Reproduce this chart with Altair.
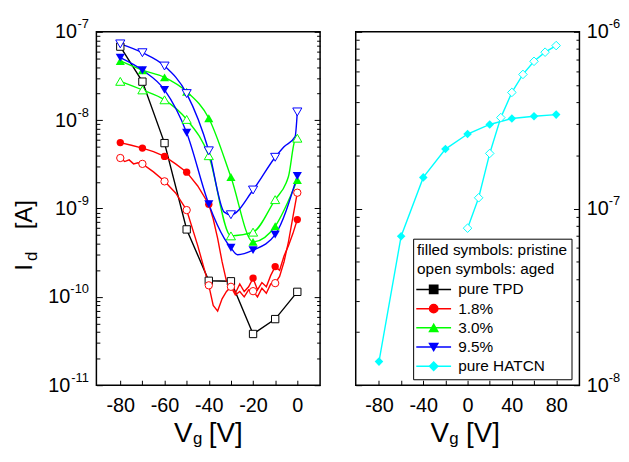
import altair as alt
import pandas as pd

# ---------------- data ----------------
SERIES = ["pure TPD", "1.8%", "3.0%", "9.5%", "pure HATCN"]
COLORS = ["#000000", "#ff0000", "#00ff00", "#0000ff", "#00ffff"]
SHAPES = ["square", "circle", "triangle-up", "triangle-down", "diamond"]
MSIZE = {"pure TPD": 55, "1.8%": 55, "3.0%": 85, "9.5%": 85, "pure HATCN": 75}

# left panel: marker voltages (V) and currents (A)
VG_L = [-80, -70, -60, -50, -40, -30, -20, -10, 0]
TPD_AGED = [6.8e-8, 2.73e-8, 5.5e-9, 5.8e-10, 1.52e-10, 1.5e-10, 3.8e-11, 5.6e-11, 1.14e-10]
R18_PRIS = [5.57e-9, 4.83e-9, 3.89e-9, 2.58e-9, 1.12e-9, 1.4e-10, 1.63e-10, 2.2e-10, 7.5e-10]
R18_AGED = [3.73e-9, 3.2e-9, 2.03e-9, 9.6e-10, 1.35e-10, 1.3e-10, 1.16e-10, 1.43e-10, 1.51e-9]
G30_PRIS = [4.68e-8, 3.68e-8, 3.05e-8, 2.1e-8, 1.05e-8, 2.27e-9, 4.19e-10, 6.3e-10, 2.1e-9]
G30_AGED = [2.75e-8, 2.2e-8, 1.7e-8, 1.02e-8, 3.96e-9, 4.9e-10, 5.4e-10, 1.26e-9, 6.25e-9]
B95_PRIS = [5.1e-8, 3.68e-8, 2.2e-8, 7.2e-9, 1.12e-9, 3.59e-10, 3.38e-10, 5.06e-10, 2.33e-9]
B95_AGED = [7.3e-8, 5.8e-8, 4.1e-8, 2.0e-8, 4.5e-9, 8.5e-10, 1.62e-9, 3.8e-9, 1.24e-8]

# measured curves (denser where the traces wiggle)
R18_PRIS_LX = [-80, -75, -70, -65, -60, -55, -50, -45, -40, -38, -36, -34, -32, -30, -28, -26, -24,
               -22, -20, -18, -16, -14, -12, -10, -8, -6, -4, -2, 0]
R18_PRIS_LY = [5.57e-9, 5.2e-9, 4.83e-9, 4.4e-9, 3.89e-9, 3.2e-9, 2.58e-9, 1.8e-9, 1.12e-9, 7.6e-10,
               4.6e-10, 2.5e-10, 1.5e-10, 1.4e-10, 1.1e-10, 1.4e-10, 1.15e-10, 1.3e-10, 1.63e-10,
               1.2e-10, 1.45e-10, 1.3e-10, 1.75e-10, 2.2e-10, 2.0e-10, 2.9e-10, 3.8e-10, 5.2e-10, 7.5e-10]
R18_AGED_LX = [-80, -78, -76, -74, -72, -70, -65, -60, -55, -50, -45, -40, -38, -36, -34, -32, -30,
               -28, -26, -24, -22, -20, -18, -16, -14, -12, -10, -8, -6, -4, -2, 0]
R18_AGED_LY = [3.73e-9, 3.4e-9, 3.55e-9, 3.2e-9, 3.3e-9, 3.2e-9, 2.6e-9, 2.03e-9, 1.5e-9, 9.6e-10,
               3.8e-10, 1.35e-10, 8.0e-11, 6.9e-11, 9.5e-11, 1.15e-10, 1.3e-10, 1.05e-10, 1.15e-10,
               1.0e-10, 1.2e-10, 1.16e-10, 1.0e-10, 1.25e-10, 1.1e-10, 1.4e-10, 1.43e-10, 1.7e-10,
               2.5e-10, 4.2e-10, 8.0e-10, 1.51e-9]
G30_AGED_LX = [-80, -70, -60, -50, -40, -30, -20, -10, -5, -4, -1, 0]
G30_AGED_LY = [2.75e-8, 2.2e-8, 1.7e-8, 1.02e-8, 3.96e-9, 4.9e-10, 5.4e-10, 1.26e-9, 1.96e-9,
               2.3e-9, 6.0e-9, 6.25e-9]
B95_PRIS_LX = [-80, -70, -60, -50, -40, -33, -30, -27, -20, -10, 0]
B95_PRIS_LY = [5.1e-8, 3.68e-8, 2.2e-8, 7.2e-9, 1.12e-9, 4.6e-10, 3.59e-10, 3.0e-10, 3.38e-10,
               5.06e-10, 2.33e-9]
B95_AGED_LX = [-80, -70, -60, -50, -40, -33, -30, -20, -10, -6, -1, 0]
B95_AGED_LY = [7.3e-8, 5.8e-8, 4.1e-8, 2.0e-8, 4.5e-9, 9.1e-10, 8.5e-10, 1.62e-9, 3.8e-9, 5.0e-9,
               6.5e-9, 1.24e-8]

# right panel: pure HATCN
VG_R_PRIS = [-80, -60, -40, -20, 0, 20, 40, 60, 80]
HAT_PRIS = [1.36e-8, 6.97e-8, 1.5e-7, 2.17e-7, 2.64e-7, 2.99e-7, 3.23e-7, 3.33e-7, 3.4e-7]
VG_R_AGED = [0, 10, 20, 30, 40, 50, 60, 70, 80]
HAT_AGED = [7.74e-8, 1.15e-7, 2.05e-7, 3.27e-7, 4.54e-7, 5.74e-7, 6.81e-7, 7.67e-7, 8.36e-7]

# axis ticks / labels
XLAB_L = [-80, -60, -40, -20, 0]
XTICK_L = [-80, -70, -60, -50, -40, -30, -20, -10, 0]
XLAB_R = [-80, -40, 0, 40, 80]
XTICK_R = [-80, -60, -40, -20, 0, 20, 40, 60, 80]
DECADES_L = [1e-11, 1e-10, 1e-9, 1e-8, 1e-7]
DECADES_R = [1e-8, 1e-7, 1e-6]
MULT = [1, 2, 3, 4, 5, 6, 7, 8, 9]

# line-legend entries carry a trailing space so that the line legend and the
# marker legend stay two separate (overlaid) legends
LINE_KEYS = [s + " " for s in SERIES]

# ---------------- tables ----------------
def line_rows(xs, ys, series, state):
    return [{"vg": x, "id": y, "sl": series + " ", "key": series + state} for x, y in zip(xs, ys)]

def pt_rows(xs, ys, series, state):
    return [{"vg": x, "id": y, "series": series, "so": series, "state": state,
             "sz": MSIZE[series]} for x, y in zip(xs, ys)]

lin_L = pd.DataFrame(line_rows(VG_L, TPD_AGED, "pure TPD", "a")
                     + line_rows(R18_PRIS_LX, R18_PRIS_LY, "1.8%", "p")
                     + line_rows(R18_AGED_LX, R18_AGED_LY, "1.8%", "a"))
mono_L = pd.DataFrame(line_rows(VG_L, G30_PRIS, "3.0%", "p")
                      + line_rows(G30_AGED_LX, G30_AGED_LY, "3.0%", "a")
                      + line_rows(B95_PRIS_LX, B95_PRIS_LY, "9.5%", "p")
                      + line_rows(B95_AGED_LX, B95_AGED_LY, "9.5%", "a"))
filled_L = pd.DataFrame(pt_rows(VG_L, R18_PRIS, "1.8%", "p") + pt_rows(VG_L, G30_PRIS, "3.0%", "p")
                        + pt_rows(VG_L, B95_PRIS, "9.5%", "p"))
open_L = pd.DataFrame(pt_rows(VG_L, TPD_AGED, "pure TPD", "a") + pt_rows(VG_L, R18_AGED, "1.8%", "a")
                      + pt_rows(VG_L, G30_AGED, "3.0%", "a") + pt_rows(VG_L, B95_AGED, "9.5%", "a"))

linp_R = pd.DataFrame(line_rows(VG_R_PRIS, HAT_PRIS, "pure HATCN", "p"))
lina_R = pd.DataFrame(line_rows(VG_R_AGED, HAT_AGED, "pure HATCN", "a"))
filled_R = pd.DataFrame(pt_rows(VG_R_PRIS, HAT_PRIS, "pure HATCN", "p"))
open_R = pd.DataFrame(pt_rows(VG_R_AGED, HAT_AGED, "pure HATCN", "a"))

# ---------------- styling ----------------
FONT = "Liberation Sans"
W, H = 226, 357
LX, LY = 320, 209
TITLE = ["filled symbols: pristine", "open symbols: aged"]

line_scale = alt.Scale(domain=LINE_KEYS, range=COLORS)
mark_scale = alt.Scale(domain=SERIES, range=COLORS)
shape_scale = alt.Scale(domain=SERIES, range=SHAPES)

common_leg = dict(orient="none", legendX=LX, legendY=LY, padding=4, title=TITLE,
                  titleFont=FONT, titleFontSize=15.5, titleFontWeight="normal",
                  titleLineHeight=19.5, titlePadding=4.5, titleAnchor="start",
                  labelFont=FONT, labelFontSize=15.5, rowPadding=2.4,
                  symbolSize=70, symbolStrokeWidth=1.5, symbolOffset=9, labelOffset=17)
stroke_leg = alt.Legend(symbolType="M-4.2,0H4.2", symbolFillColor="transparent",
                        strokeColor="black", fillColor="white", labelColor="black",
                        titleColor="black", zindex=0, **common_leg)
shape_leg = alt.Legend(labelColor="transparent", titleColor="transparent", zindex=1,
                       symbolStrokeColor="transparent", **common_leg)

MAJOR = "abs(log(datum.value)/LN10 - round(log(datum.value)/LN10)) < 0.001"
tick_size = {"condition": {"test": MAJOR, "value": 6}, "value": 3.5}


def yvals(decs):
    out = []
    for d in decs[:-1]:
        out += [m * d for m in MULT]
    return out + [decs[-1]]


def tick_axis(orient, values, offset, size=tick_size, **kw):
    return alt.Axis(orient=orient, values=values, offset=offset, labels=False, domain=False,
                    grid=False, ticks=True, tickSize=size, tickColor="black", tickWidth=1,
                    **kw)


def title_kw(text, tx, ty, size, angle=0):
    return dict(title=text, titleX=tx, titleY=ty, titleFont=FONT, titleFontSize=size,
                titleFontWeight="normal", titleAngle=angle, titleAlign="left",
                titleBaseline="alphabetic", titleColor="black")


def panel(lines_lin, lines_mono, filled, opened, xdom, ydom, xlab, xtick, decs, side,
          interp_b, xt):
    xs = alt.Scale(domain=xdom, nice=False, zero=False)
    ys = alt.Scale(type="log", domain=ydom, nice=False)
    yv = yvals(decs)
    exp_expr = "'-' + round(-log(datum.value)/LN10)"
    if side == "left":
        two = "datum.value < 5e-10"
        y_ten = alt.Axis(orient="left", values=decs, labelExpr="'10'", ticks=False, domain=False,
                         grid=False, labelAlign="right", labelBaseline="middle",
                         labelPadding={"condition": {"test": two, "value": 27}, "value": 20},
                         labelFont=FONT, labelFontSize=20, labelColor="black",
                         **title_kw("I", -65.5, 241, 24, 270))
        y_exp = alt.Axis(orient="left", values=decs, labelExpr=exp_expr, ticks=False,
                         domain=False, grid=False, labelAlign="right", labelBaseline="middle",
                         labelPadding=8, labelOffset=-8, labelFont=FONT, labelFontSize=13,
                         labelColor="black", **title_kw("d", -60.5, 231, 17, 270))
        y_tick_in_left = tick_axis("right", yv, -W, **title_kw("[A]", -65.5, 199, 24, 270))
    else:
        y_ten = alt.Axis(orient="right", values=decs, labelExpr="'10'", ticks=False,
                         domain=False, grid=False, labelAlign="left", labelBaseline="middle",
                         labelPadding=7, labelFont=FONT, labelFontSize=20, labelColor="black",
                         title=None)
        y_exp = alt.Axis(orient="right", values=decs, labelExpr=exp_expr, ticks=False,
                         domain=False, grid=False, labelAlign="left", labelBaseline="middle",
                         labelPadding=29, labelOffset=-8, labelFont=FONT, labelFontSize=13,
                         labelColor="black", title=None)
        y_tick_in_left = tick_axis("right", yv, -W, title=None)
    y_tick_in_right = tick_axis("left", yv, -W, title=None)

    x_lab = alt.Axis(orient="bottom", values=xlab, labelExpr="'' + datum.value", ticks=False,
                     domain=False, grid=False, labelPadding=11, labelFont=FONT, labelFontSize=20,
                     labelColor="black", **title_kw("V", xt[0], 57, 28))
    x_tick = tick_axis("top", xtick, -H, size=5, **title_kw("g", xt[1], 59, 17))
    x_t3 = alt.Axis(orient="bottom", labels=False, ticks=False, domain=False, grid=False,
                    **title_kw("[V]", xt[2], 57, 28))

    la = alt.Chart(lines_lin).mark_line(strokeWidth=1.4, interpolate="linear").encode(
        x=alt.X("vg:Q", scale=xs, axis=x_lab),
        y=alt.Y("id:Q", scale=ys, axis=y_ten),
        stroke=alt.Stroke("sl:N", scale=line_scale, legend=stroke_leg),
        detail="key:N",
    )
    lb = alt.Chart(lines_mono).mark_line(strokeWidth=1.4, interpolate=interp_b).encode(
        x=alt.X("vg:Q", scale=xs, axis=x_tick),
        y=alt.Y("id:Q", scale=ys, axis=y_exp),
        stroke=alt.Stroke("sl:N", scale=line_scale, legend=stroke_leg),
        detail="key:N",
    )
    pf = alt.Chart(filled).mark_point(filled=True, opacity=1, strokeWidth=0).encode(
        x=alt.X("vg:Q", scale=xs, axis=x_t3),
        y=alt.Y("id:Q", scale=ys, axis=y_tick_in_left),
        fill=alt.Fill("series:N", scale=mark_scale, legend=shape_leg),
        shape=alt.Shape("series:N", scale=shape_scale, legend=shape_leg),
        size=alt.Size("sz:Q", scale=None),
    )
    po = alt.Chart(opened).mark_point(filled=False, fill="white", fillOpacity=1, opacity=1,
                                      strokeWidth=1).encode(
        x=alt.X("vg:Q", scale=xs, axis=None),
        y=alt.Y("id:Q", scale=ys, axis=y_tick_in_right),
        color=alt.Color("so:N", scale=mark_scale, legend=None),
        shape=alt.Shape("series:N", scale=shape_scale, legend=shape_leg),
        size=alt.Size("sz:Q", scale=None),
    )
    return alt.layer(la, lb, pf, po).resolve_axis(x="independent", y="independent").properties(
        width=W, height=H)


left = panel(lin_L, mono_L, filled_L, open_L, [-90.8, 10.3], [1e-11, 1e-7], XLAB_L, XTICK_L,
             DECADES_L, "left", "monotone", (78, 97, 113))
right = panel(linp_R, lina_R, filled_R, open_R, [-101, 101], [1e-8, 1e-6], XLAB_R, XTICK_R,
              DECADES_R, "right", "linear", (75, 94, 111))

chart = alt.hconcat(left, right, spacing=32).properties(
    padding={"left": 3.3, "top": 6.8, "right": 0, "bottom": 0},
    background="white",
).configure_view(stroke="black", strokeWidth=1.5)

chart.save("out.html", embed_options={"renderer": "svg", "actions": False})
